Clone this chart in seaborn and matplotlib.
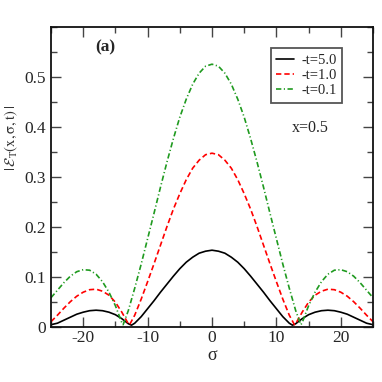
import matplotlib
matplotlib.use("Agg")
import matplotlib.pyplot as plt
import numpy as np
import pandas as pd
import seaborn as sns
from matplotlib.ticker import MultipleLocator

# values for sigma >= 0 (the curves are symmetric in sigma)
SIGMA_T50 = [0, 1, 2, 3, 4, 5, 6, 7, 8, 9, 10, 11, 12, 12.5, 13, 14, 15, 16, 17, 18, 19, 20, 21, 22, 23, 24, 25]
VAL_T50 = [0.153, 0.151, 0.147, 0.139, 0.129, 0.116, 0.101, 0.085, 0.069, 0.052, 0.036, 0.020, 0.007, 0.003,
           0.006, 0.016, 0.024, 0.029, 0.032, 0.033, 0.032, 0.029, 0.025, 0.019, 0.013, 0.007, 0.004]

SIGMA_T10 = [0, 1, 2, 3, 4, 5, 6, 7, 8, 9, 10, 11, 12, 12.8, 13, 14, 15, 16, 17, 18, 19, 20, 21, 22, 23, 24, 25]
VAL_T10 = [0.347, 0.344, 0.333, 0.317, 0.294, 0.266, 0.235, 0.200, 0.163, 0.126, 0.090, 0.055, 0.023, 0.004,
           0.006, 0.029, 0.049, 0.063, 0.071, 0.075, 0.074, 0.069, 0.061, 0.050, 0.037, 0.023, 0.010]

SIGMA_T01 = [0, 1, 2, 3, 4, 5, 6, 7, 8, 9, 10, 11, 12, 13, 13.8, 14, 15, 16, 17, 18, 19, 20, 21, 22, 23, 24, 25]
VAL_T01 = [0.525, 0.521, 0.507, 0.485, 0.455, 0.419, 0.376, 0.329, 0.279, 0.227, 0.176, 0.125, 0.077, 0.032,
           0.004, 0.008, 0.042, 0.069, 0.090, 0.105, 0.113, 0.114, 0.110, 0.101, 0.088, 0.073, 0.058]

LABELS = ["-t=5.0", "-t=1.0", "-t=0.1"]
COLORS = {"-t=5.0": "#000000", "-t=1.0": "#ff0000", "-t=0.1": "#1f9a1f"}
DASHES = {"-t=5.0": "", "-t=1.0": (3.2, 1.8), "-t=0.1": (3.2, 1.5, 0.7, 1.5)}


def mirror(sig, val):
    s = [-x for x in reversed(sig[1:])] + list(sig)
    v = list(reversed(val[1:])) + list(val)
    return s, v


def build_frame() -> pd.DataFrame:
    parts = []
    for label, sig, val in zip(LABELS, [SIGMA_T50, SIGMA_T10, SIGMA_T01], [VAL_T50, VAL_T10, VAL_T01]):
        s, v = mirror(sig, val)
        parts.append(pd.DataFrame({"sigma": s, "value": v, "curve": label}))
    return pd.concat(parts, ignore_index=True)


sns.set_style("ticks")
plt.rcParams["font.family"] = ["Liberation Serif", "DejaVu Serif"]
plt.rcParams["mathtext.fontset"] = "stix"
plt.rcParams["axes.unicode_minus"] = False

df = build_frame()

fig = plt.figure(figsize=(3.82, 3.82), dpi=100)
ax = fig.add_axes([51 / 382, 1 - 326.7 / 382, 322 / 382, 300 / 382])

sns.lineplot(
    data=df, x="sigma", y="value", hue="curve", style="curve",
    hue_order=LABELS, style_order=LABELS, palette=COLORS, dashes=DASHES,
    linewidth=1.2, sort=False, estimator=None, ax=ax,
)

ax.set_xlim(-25, 25)
ax.set_ylim(0, 0.6)
ax.xaxis.set_major_locator(MultipleLocator(10))
ax.xaxis.set_minor_locator(MultipleLocator(5))
ax.yaxis.set_major_locator(MultipleLocator(0.1))
ax.yaxis.set_minor_locator(MultipleLocator(0.05))
ax.set_yticks([0, 0.1, 0.2, 0.3, 0.4, 0.5])
ax.set_yticklabels(["0", "0.1", "0.2", "0.3", "0.4", "0.5"])
ax.tick_params(which="both", direction="in", top=True, right=True, labelsize=12.5, width=1.0, color="#444444")
ax.tick_params(axis="x", pad=2.5)
ax.tick_params(which="major", length=7)
ax.tick_params(which="minor", length=4)
for sp in ax.spines.values():
    sp.set_linewidth(1.3)
    sp.set_color("#111111")

ax.set_xlabel("σ", fontsize=13, labelpad=0.5)
ax.set_ylabel(r"$|\,\mathcal{E}_{\rm T}(\rm x,\sigma,t)\,|$", fontsize=10.5, color="#333333")
ax.yaxis.set_label_coords(-0.095, 0.63)

ax.text(-16.6, 0.559, "(a)", fontsize=12.5, fontweight="bold", ha="center", va="center")
ax.text(15.3, 0.397, "x=0.5", fontsize=11.5, ha="center", va="center")

leg = ax.legend(
    loc="upper right", bbox_to_anchor=(0.905, 0.928), borderaxespad=0,
    fontsize=10.5, handlelength=1.2, handletextpad=0.5, labelspacing=0.1,
    borderpad=0.4, fancybox=False, framealpha=1, title=None,
)
leg.get_frame().set_edgecolor("#555555")
leg.get_frame().set_linewidth(1.3)

fig.savefig("out.png", dpi=100)
plt.close(fig)
